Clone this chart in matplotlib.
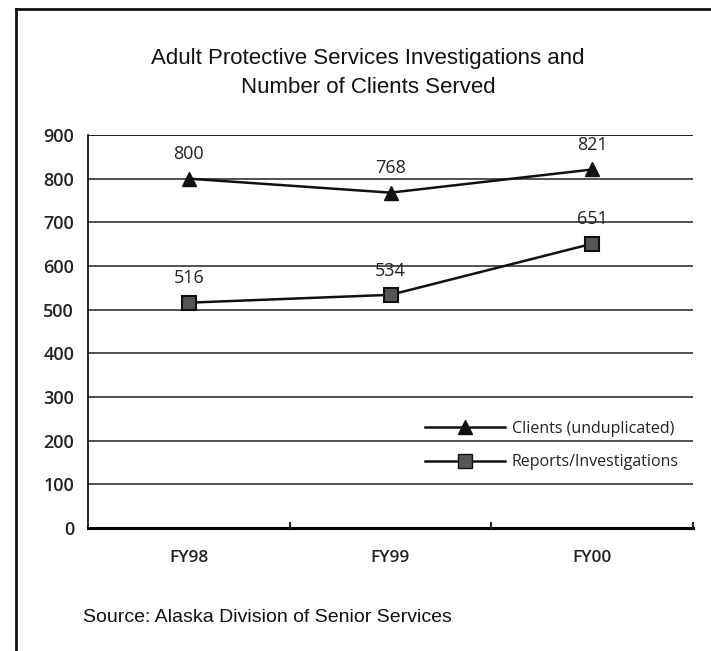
import matplotlib
matplotlib.use("Agg")
import matplotlib.pyplot as plt
from matplotlib.lines import Line2D

categories = ["FY98", "FY99", "FY00"]
clients = [800, 768, 821]
reports = [516, 534, 651]
series_names = ["Clients (unduplicated)", "Reports/Investigations"]
y_ticks = [0, 100, 200, 300, 400, 500, 600, 700, 800, 900]

W, H = 711, 651
fig = plt.figure(figsize=(W / 100, H / 100), dpi=100)
fig.patch.set_facecolor("white")

ax = fig.add_axes([88 / W, 1 - 528 / H, (693 - 88) / W, (528 - 135) / H])
ax.set_facecolor("white")

x = list(range(len(categories)))
ax.set_xlim(-0.5, len(categories) - 0.5)
ax.set_ylim(0, 900)

for v in y_ticks[1:]:
    ax.axhline(v, color="#222222", lw=1.1, zorder=1)

ax.plot(x, clients, color="#111111", lw=1.8, marker="^", ms=10,
        mfc="#111111", mec="#111111", zorder=3)
ax.plot(x, reports, color="#111111", lw=1.8, marker="s", ms=10,
        mfc="#555555", mec="#111111", mew=1.5, zorder=3)

lab_font = dict(family="Open Sans", fontsize=13, color="#222222")
for xi, v in zip(x, clients):
    ax.annotate(str(v), (xi, v), xytext=(0, 11), textcoords="offset points",
                ha="center", va="bottom", **lab_font)
for xi, v in zip(x, reports):
    ax.annotate(str(v), (xi, v), xytext=(0, 11), textcoords="offset points",
                ha="center", va="bottom", **lab_font)

for s in ["top", "right"]:
    ax.spines[s].set_visible(False)
ax.spines["left"].set_linewidth(1.2)
ax.spines["bottom"].set_linewidth(2.2)
ax.axhline(900, color="#222222", lw=1.3, zorder=1)

ax.set_yticks(y_ticks)
ax.set_yticklabels([str(v) for v in y_ticks], fontfamily="Open Sans",
                   fontweight="semibold", fontsize=13, color="#222222")
ax.tick_params(axis="y", length=0, pad=10)

ax.set_xticks(x)
ax.set_xticklabels(categories, fontfamily="Open Sans", fontweight="semibold",
                   fontsize=12.5, color="#222222")
ax.tick_params(axis="x", length=0, pad=16)
for b in [0.5, 1.5, 2.5]:
    ax.plot([b, b], [0, 12], color="#222222", lw=1.5, clip_on=False, zorder=4)

handles = [
    Line2D([], [], color="#111111", lw=1.8, marker="^", ms=10, mfc="#111111"),
    Line2D([], [], color="#111111", lw=1.8, marker="s", ms=10, mfc="#555555",
           mec="#111111"),
]
ax.legend(handles, series_names, loc="lower right", bbox_to_anchor=(1.0, 0.11),
          frameon=False, handlelength=5.0, handletextpad=0.4, labelspacing=1.1,
          prop=dict(family="Open Sans", size=11.5), labelcolor="#222222")

fig.text(368 / W, 1 - 73 / H,
         "Adult Protective Services Investigations and\nNumber of Clients Served",
         ha="center", va="center", fontfamily="Liberation Sans", fontsize=16,
         linespacing=1.5, color="#111111")
fig.text(83 / W, 1 - 618 / H, "Source: Alaska Division of Senior Services",
         ha="left", va="center", fontfamily="Liberation Sans", fontsize=14,
         color="#111111")

fig.add_artist(Line2D([16 / W, 16 / W], [0, 1 - 9 / H], transform=fig.transFigure,
                      color="#111111", lw=2))
fig.add_artist(Line2D([16 / W, 1], [1 - 9 / H, 1 - 9 / H], transform=fig.transFigure,
                      color="#111111", lw=2))

fig.savefig("out.png", dpi=100)
